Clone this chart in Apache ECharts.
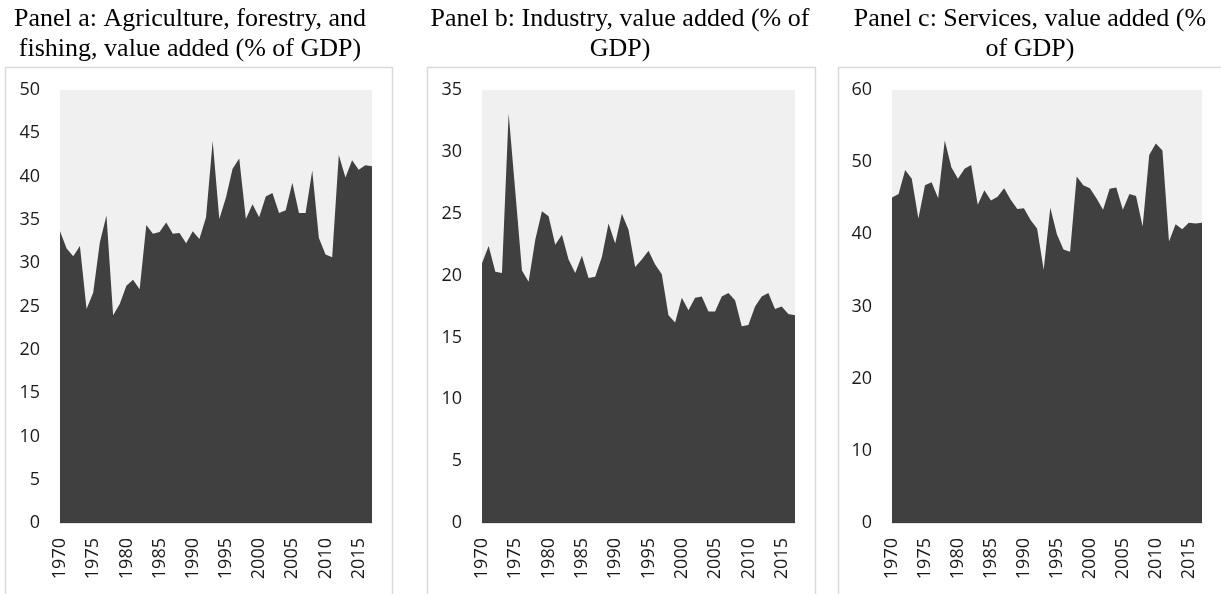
<!DOCTYPE html>
<html>
<head>
<meta charset="utf-8">
<script src="https://cdn.jsdelivr.net/npm/echarts@6/dist/echarts.min.js"></script>
<style>
  html, body { margin: 0; padding: 0; background: #fff; }
  #chart-wrapper { width: 1221px; height: 594px; }
</style>
</head>
<body>
<div id="chart-wrapper"></div>
<script>
// years 1970 - 2017
const years = [];
for (let y = 1970; y <= 2017; y++) years.push(String(y));

// Panel a: agriculture, forestry and fishing (% of GDP)
const agriculture = [
  33.7, 31.7, 30.8, 32.0, 24.7, 26.6, 32.4, 35.5, 24.0, 25.3,
  27.4, 28.1, 27.0, 34.4, 33.4, 33.6, 34.7, 33.4, 33.5, 32.3,
  33.7, 32.8, 35.3, 44.1, 35.1, 37.6, 40.9, 42.1, 35.1, 36.8,
  35.3, 37.7, 38.1, 35.8, 36.1, 39.3, 35.8, 35.8, 40.7, 32.9,
  31.0, 30.7, 42.5, 39.9, 41.9, 40.8, 41.3, 41.2
];

// Panel b: industry (% of GDP)
const industry = [
  21.0, 22.4, 20.3, 20.2, 33.1, 26.8, 20.4, 19.5, 22.9, 25.2,
  24.8, 22.5, 23.3, 21.3, 20.2, 21.6, 19.8, 19.9, 21.5, 24.2,
  22.6, 25.0, 23.7, 20.7, 21.3, 22.0, 20.9, 20.1, 16.8, 16.2,
  18.2, 17.2, 18.2, 18.3, 17.1, 17.1, 18.3, 18.6, 18.0, 15.9,
  16.0, 17.5, 18.3, 18.6, 17.3, 17.5, 16.9, 16.8
];

// Panel c: services (% of GDP)
const services = [
  45.1, 45.6, 48.9, 47.7, 42.2, 46.8, 47.2, 45.0, 53.0, 49.3,
  47.7, 49.1, 49.6, 44.1, 46.1, 44.7, 45.2, 46.4, 44.8, 43.5,
  43.6, 42.0, 40.8, 35.1, 43.7, 40.0, 37.9, 37.6, 48.0, 46.8,
  46.4, 45.0, 43.4, 46.3, 46.5, 43.4, 45.6, 45.3, 41.1, 51.0,
  52.6, 51.6, 39.0, 41.4, 40.7, 41.6, 41.5, 41.6
];

const panelTitles = [
  "Panel a: Agriculture, forestry, and\nfishing, value added (% of GDP)",
  "Panel b: Industry, value added (% of\nGDP)",
  "Panel c: Services, value added (%\nof GDP)"
];
const yMax = [50, 35, 60];
const yStep = [5, 5, 10];

// layout
const grids = [
  { left: 60, width: 312, top: 90, bottom: 71 },
  { left: 482, width: 313, top: 90, bottom: 71 },
  { left: 892, width: 310, top: 90, bottom: 71 }
];
const boxes = [
  { x: 5.5, w: 387 },
  { x: 427.5, w: 388 },
  { x: 838.5, w: 392 }
];
const titleX = [190, 620, 1030];

const labelFont = "'Open Sans', 'Noto Sans', sans-serif";

const chart = echarts.init(document.getElementById("chart-wrapper"), null, { renderer: "canvas" });

const graphics = [];
boxes.forEach((b, i) => {
  graphics.push({
    type: "rect",
    z: -10,
    shape: { x: b.x, y: 67.5, width: b.w, height: 600 },
    style: { fill: "#fff", stroke: "#d9d9d9", lineWidth: 1.5 }
  });
  graphics.push({
    type: "text",
    x: titleX[i],
    y: 4,
    style: {
      text: panelTitles[i],
      fill: "#000",
      font: "26px 'Liberation Serif', 'Times New Roman', serif",
      textAlign: "center",
      textVerticalAlign: "top",
      lineHeight: 30
    }
  });
});

const option = {
  animation: false,
  backgroundColor: "#fff",
  graphic: graphics,
  grid: grids.map((g) => ({
    left: g.left,
    width: g.width,
    top: g.top,
    bottom: g.bottom,
    show: true,
    backgroundColor: "#f0f0f0",
    borderWidth: 0,
    containLabel: false
  })),
  xAxis: grids.map((g, i) => ({
    type: "category",
    gridIndex: i,
    data: years,
    boundaryGap: false,
    axisTick: { show: false },
    axisLine: { show: true, lineStyle: { color: "#d9d9d9", width: 1.5 } },
    axisLabel: {
      rotate: 90,
      margin: 15,
      color: "#1a1a1a",
      fontFamily: labelFont,
      fontSize: 18,
      interval: (idx, val) => Number(val) % 5 === 0
    },
    splitLine: { show: false }
  })),
  yAxis: grids.map((g, i) => ({
    type: "value",
    gridIndex: i,
    min: 0,
    max: yMax[i],
    interval: yStep[i],
    axisLine: { show: false },
    axisTick: { show: false },
    splitLine: { show: false },
    axisLabel: {
      margin: 20,
      color: "#1a1a1a",
      fontFamily: labelFont,
      fontSize: 18
    }
  })),
  series: [agriculture, industry, services].map((d, i) => ({
    type: "line",
    xAxisIndex: i,
    yAxisIndex: i,
    data: d,
    symbol: "none",
    showSymbol: false,
    color: "#404040",
    lineStyle: { width: 0 },
    areaStyle: { color: "#404040", opacity: 1 }
  }))
};

chart.setOption(option);
</script>
</body>
</html>
